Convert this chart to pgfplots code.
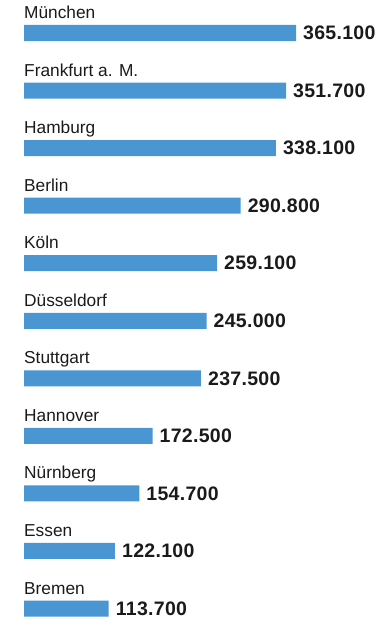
\documentclass[border=0pt]{standalone}
\usepackage{fontspec}
\setmainfont{Liberation Sans}
\newfontfamily\valfont[LetterSpace=1.5]{Liberation Sans Bold}
\usepackage{pgfplots}
\usepackage{pgfplotstable}
\pgfplotsset{compat=1.18}
\definecolor{barblue}{RGB}{74,150,211}
\definecolor{txt}{RGB}{26,26,26}
\pgfplotstableread[col sep=comma]{
idx,value,name
0,365100,München
1,351700,Frankfurt a. M.
2,338100,Hamburg
3,290800,Berlin
4,259100,Köln
5,245000,Düsseldorf
6,237500,Stuttgart
7,172500,Hannover
8,154700,Nürnberg
9,122100,Essen
10,113700,Bremen
}\data
\begin{document}
\begin{tikzpicture}
\begin{axis}[
  scale only axis, width=272bp, height=575.5bp,
  xmin=0, xmax=365100, ymin=0, ymax=10, y dir=reverse,
  hide axis, clip=false,
  /pgf/number format/assume math mode=true,
]
\addplot[xbar, bar width=16bp, fill=barblue, draw=none,
  nodes near coords,
  /pgf/number format/fixed, /pgf/number format/precision=0,
  /pgf/number format/1000 sep={.},
  every node near coord/.append style={anchor=west, inner sep=0pt, xshift=7bp,
    text=txt, font=\valfont\fontsize{19.5bp}{21bp}\selectfont},
] table[x=value, y=idx]{\data};
\addplot[draw=none, mark=none, nodes near coords, point meta=explicit symbolic,
  every node near coord/.append style={anchor=base west, inner sep=0pt, yshift=14.5bp,
    text=txt, font=\fontsize{17.3bp}{19bp}\selectfont},
] table[x expr=0, y=idx, meta=name]{\data};
\end{axis}
\path ([shift={(-24bp,-10.5bp)}]current axis.south west) rectangle ([shift={(93bp,33bp)}]current axis.north east);
\end{tikzpicture}
\end{document}
